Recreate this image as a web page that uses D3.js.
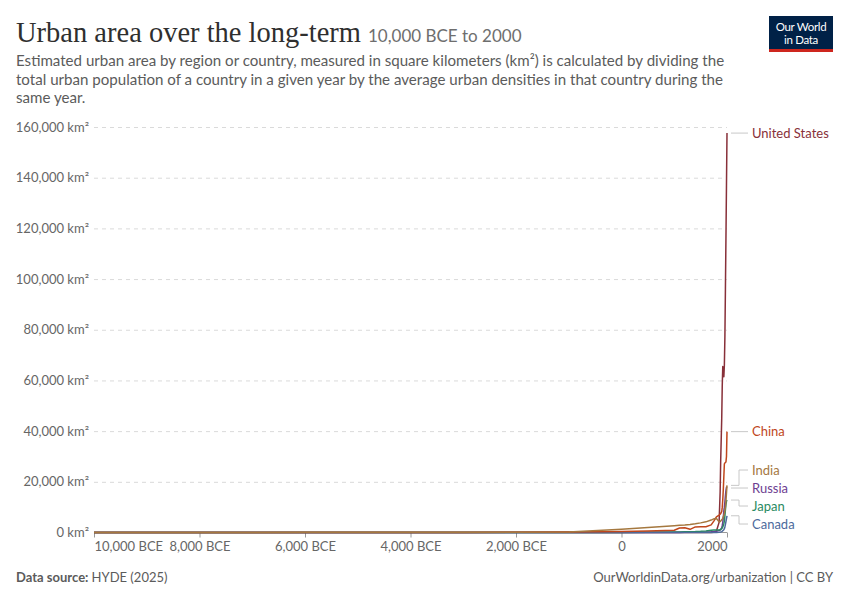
<!DOCTYPE html>
<html>
<head>
<meta charset="utf-8">
<script src="https://cdn.jsdelivr.net/npm/d3@7"></script>
<style>
  html, body { margin: 0; padding: 0; background: #fff; }
  svg { display: block; font-family: Lato, "Noto Sans", sans-serif; }
</style>
</head>
<body>
<svg id="chart" width="850" height="600"></svg>
<script>
// ---------- DATA ----------
const years = [-10000, -8000, -6000, -4000, -3000, -2000, -1000, 0, 500, 1000, 1100, 1200, 1300, 1400, 1500, 1600, 1700, 1750, 1800, 1850, 1870, 1880, 1900, 1910, 1920, 1930, 1940, 1950, 1960, 1970, 1980, 1990, 2000];

const unitedStates = [0, 0, 0, 0, 0, 0, 0, 0, 0, 0, 0, 0, 0, 0, 0, 0, 20, 100, 600, 4000, 16000, 28000, 45000, 58000, 65500, 63500, 61500, 66000, 77000, 96000, 116000, 137000, 157600];
const china        = [0, 0, 0, 10, 30, 80, 200, 400, 550, 900, 1800, 1900, 1250, 2200, 2300, 2300, 3000, 4500, 6200, 6900, 7200, 7500, 8200, 10000, 13000, 17000, 22000, 27000, 27500, 27600, 27800, 30000, 39800];
const india        = [30, 40, 50, 60, 80, 120, 150, 1250, 2000, 2700, 2850, 3000, 3200, 3450, 3800, 4200, 4900, 5400, 5500, 4200, 4300, 4500, 5000, 5300, 5600, 6200, 6800, 7500, 8600, 10200, 12500, 15500, 18600];
const russia       = [0, 0, 0, 0, 0, 0, 0, 0, 5, 30, 40, 60, 60, 80, 100, 150, 250, 350, 500, 800, 1000, 1200, 1800, 2800, 4000, 6000, 8500, 10000, 12000, 14500, 16500, 17800, 18000];
const japan        = [0, 0, 0, 0, 0, 0, 0, 10, 50, 150, 200, 250, 300, 350, 450, 600, 900, 1000, 1000, 1000, 1100, 1200, 1500, 1800, 2200, 2800, 3500, 4500, 6500, 9000, 11000, 12300, 12800];
const canada       = [0, 0, 0, 0, 0, 0, 0, 0, 0, 0, 0, 0, 0, 0, 0, 0, 0, 5, 20, 100, 150, 200, 350, 500, 700, 900, 1100, 1500, 2200, 3200, 4300, 5500, 6600];

const seriesNames  = ["United States", "Russia", "Japan", "Canada", "China", "India"];
const seriesValues = [unitedStates, russia, japan, canada, china, india];
const seriesColors = ["#883039", "#6D3E91", "#2A8A62", "#4C6A9C", "#C0461B", "#A5783F"];

const xTicks = [-10000, -8000, -6000, -4000, -2000, 0, 2000];
const yTicks = [0, 20000, 40000, 60000, 80000, 100000, 120000, 140000, 160000];

// ---------- SETUP ----------
const svg = d3.select("#chart");
const x = d3.scaleLinear().domain([-10000, 2000]).range([94, 727]);
const y = d3.scaleLinear().domain([0, 160000]).range([532.5, 127]);

// Title
svg.append("text")
  .attr("x", 16).attr("y", 42)
  .attr("font-family", "'Liberation Serif', 'DejaVu Serif', serif")
  .attr("font-size", 29).attr("fill", "#2f2f2f")
  .attr("textLength", 345).attr("lengthAdjust", "spacingAndGlyphs")
  .text("Urban area over the long-term");
svg.append("text")
  .attr("x", 368).attr("y", 42)
  .attr("font-size", 17).attr("fill", "#6e6e6e")
  .text("10,000 BCE to 2000");

const desc = [
  "Estimated urban area by region or country, measured in square kilometers (km²) is calculated by dividing the",
  "total urban population of a country in a given year by the average urban densities in that country during the",
  "same year."
];
svg.append("g").selectAll("text").data(desc).join("text")
  .attr("x", 16).attr("y", (d, i) => 66 + i * 18.7)
  .attr("font-size", 15.1).attr("fill", "#5b5b5b")
  .text(d => d);

// Logo
const logo = svg.append("g").attr("transform", "translate(769,16)");
logo.append("rect").attr("width", 64).attr("height", 36).attr("fill", "#002147");
logo.append("rect").attr("y", 33).attr("width", 64).attr("height", 3).attr("fill", "#CE261E");
logo.append("text").attr("x", 32).attr("y", 15).attr("text-anchor", "middle")
  .attr("font-size", 11.5).attr("fill", "#fff").attr("letter-spacing", -0.3).text("Our World");
logo.append("text").attr("x", 32).attr("y", 28).attr("text-anchor", "middle")
  .attr("font-size", 11.5).attr("fill", "#fff").attr("letter-spacing", -0.3).text("in Data");

// Y axis + grid
const yAxis = d3.axisLeft(y).tickValues(yTicks)
  .tickFormat(d => d3.format(",")(d) + " km²")
  .tickSize(-(727 - 94)).tickPadding(5);
const yg = svg.append("g").attr("transform", "translate(94,0)").call(yAxis);
yg.select(".domain").remove();
yg.selectAll(".tick line").attr("stroke", "#dadada").attr("stroke-dasharray", "4,4")
  .filter(d => d === 0).remove();
yg.selectAll(".tick text").attr("font-size", 13).attr("fill", "#666")
  .attr("font-family", "Lato, sans-serif");

// X axis
const xAxis = d3.axisBottom(x).tickValues(xTicks)
  .tickFormat(d => d < 0 ? d3.format(",")(-d) + " BCE" : String(d))
  .tickSize(5).tickPadding(4);
const xg = svg.append("g").attr("transform", "translate(0,532.5)").call(xAxis);
xg.select(".domain").attr("stroke", "#999").attr("d", `M94,0H727`);
xg.selectAll(".tick line").attr("stroke", "#999");
xg.selectAll(".tick text").attr("font-size", 13).attr("fill", "#666")
  .attr("font-family", "Lato, sans-serif");
xg.selectAll(".tick text").filter(d => d === xTicks[0]).attr("text-anchor", "start");
xg.selectAll(".tick text").filter(d => d === xTicks[xTicks.length - 1]).attr("text-anchor", "end");

// Lines
const line = d3.line().x(d => x(d[0])).y(d => y(d[1]));
const lg = svg.append("g");
seriesNames.forEach((name, i) => {
  const pts = years.map((yr, j) => [yr, seriesValues[i][j]]);
  lg.append("path").datum(pts)
    .attr("fill", "none").attr("stroke", seriesColors[i])
    .attr("stroke-width", 1.5).attr("stroke-linejoin", "round")
    .attr("d", line);
});

// Labels with de-overlap
const labelOrder = ["United States", "China", "India", "Russia", "Japan", "Canada"];
let items = labelOrder.map(n => {
  const i = seriesNames.indexOf(n);
  const v = seriesValues[i][years.length - 1];
  return { name: n, color: seriesColors[i], target: y(v), pos: y(v) };
}).sort((a, b) => a.target - b.target);

const gap = 18;
let groups = items.map(it => ({ members: [it], center: it.target }));
let changed = true;
while (changed) {
  changed = false;
  for (let k = 0; k < groups.length - 1; k++) {
    const a = groups[k], b = groups[k + 1];
    const aBottom = a.center + (a.members.length - 1) * gap / 2;
    const bTop = b.center - (b.members.length - 1) * gap / 2;
    if (bTop - aBottom < gap) {
      const members = a.members.concat(b.members);
      const center = d3.mean(members, m => m.target);
      groups.splice(k, 2, { members, center });
      changed = true;
      break;
    }
  }
}
groups.forEach(g => {
  g.members.forEach((m, k) => {
    m.pos = g.center + (k - (g.members.length - 1) / 2) * gap;
  });
});

const lab = svg.append("g");
items.forEach(it => {
  const x0 = 731, x1 = 748, xm = 739;
  const path = Math.abs(it.pos - it.target) < 1.5
    ? `M${x0},${it.pos}H${x1}`
    : `M${x0},${it.target}H${xm}V${it.pos}H${x1}`;
  lab.append("path").attr("d", path).attr("fill", "none")
    .attr("stroke", "#c8c8c8").attr("stroke-width", 1);
  lab.append("text").attr("x", 752).attr("y", it.pos).attr("dy", "0.35em")
    .attr("font-size", 13).attr("fill", it.color).text(it.name);
});

// Footer
const f = svg.append("text").attr("x", 16).attr("y", 582).attr("font-size", 13).attr("fill", "#5b5b5b");
f.append("tspan").attr("font-weight", 700).text("Data source: ");
f.append("tspan").text("HYDE (2025)");
svg.append("text").attr("x", 833).attr("y", 582).attr("text-anchor", "end")
  .attr("font-size", 13).attr("fill", "#5b5b5b")
  .text("OurWorldinData.org/urbanization | CC BY");
</script>
</body>
</html>
